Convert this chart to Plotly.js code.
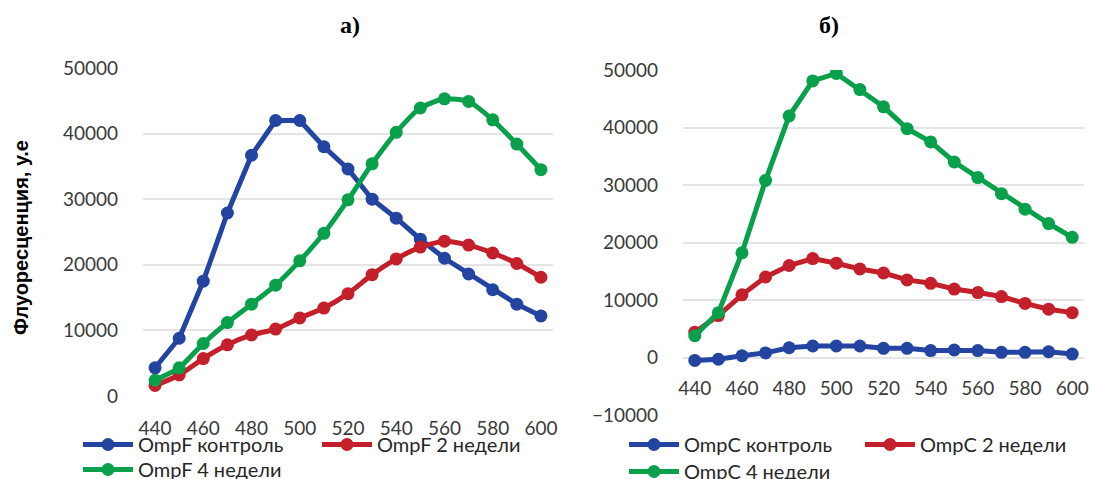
<!DOCTYPE html>
<html>
<head>
<meta charset="utf-8">
<script src="https://cdn.plot.ly/plotly-3.0.1.min.js"></script>
<style>html,body{margin:0;padding:0;background:#fff;}#chart{width:1094px;height:479px;}</style>
</head>
<body>
<div id="chart"></div>
<script>
// Wavelengths (nm)
const wavelengths = [440,450,460,470,480,490,500,510,520,530,540,550,560,570,580,590,600];
const xTickVals = [440,460,480,500,520,540,560,580,600];

// Panel а) OmpF
const ompF_control = [4300,8800,17500,27900,36700,42000,42000,38000,34600,30000,27100,23900,21000,18600,16200,14000,12200];
const ompF_2weeks  = [1600,3200,5700,7800,9300,10200,11900,13400,15600,18500,20900,22700,23600,23000,21800,20200,18100];
const ompF_4weeks  = [2400,4300,8000,11200,14000,16900,20600,24800,29900,35400,40200,43900,45300,44900,42100,38400,34500];

// Panel б) OmpC
const ompC_control = [-500,-300,300,800,1700,2000,2000,2000,1600,1600,1200,1300,1200,900,900,1000,600];
const ompC_2weeks  = [4400,7300,10900,14000,16000,17200,16400,15400,14700,13500,12900,11900,11300,10600,9400,8400,7800];
const ompC_4weeks  = [3800,7800,18200,30800,42000,48100,49400,46600,43600,39800,37500,34000,31300,28500,25800,23300,20900];

const namesF = ["OmpF контроль","OmpF 2 недели","OmpF 4 недели"];
const namesC = ["OmpC контроль","OmpC 2 недели","OmpC 4 недели"];
const panelTitles = ["а)","б)"];
const yTitle = "Флуоресценция, у.е";

const colors = ["#2344A0","#C3202B","#08A04B"];
const W = 1094, H = 479;
const px = v => v / W;
const py = v => (H - v) / H;

const TICKFONT = {family:"Lato, 'Open Sans', sans-serif", size:19, color:"#3a3a3a"};
const LEGFONT = {family:"Lato, 'Open Sans', sans-serif", size:20, color:"#262626"};

function tr(x, y, name, ci, xa, ya, leg, smooth) {
  return {
    x: x, y: y, name: name, type: "scatter", mode: "lines+markers",
    xaxis: xa, yaxis: ya, legend: leg,
    line: {color: colors[ci], width: 5, shape: smooth ? "spline" : "linear", smoothing: 0.6},
    marker: {color: colors[ci], size: 13},
    hoverinfo: "skip"
  };
}

const data = [
  tr(wavelengths, ompF_control, namesF[0], 0, "x", "y", "legend", false),
  tr(wavelengths, ompF_2weeks,  namesF[1], 1, "x", "y", "legend2", true),
  tr(wavelengths, ompF_4weeks,  namesF[2], 2, "x", "y", "legend3", true),
  tr(wavelengths, ompC_control, namesC[0], 0, "x2", "y2", "legend4", false),
  tr(wavelengths, ompC_2weeks,  namesC[1], 1, "x2", "y2", "legend5", false),
  tr(wavelengths, ompC_4weeks,  namesC[2], 2, "x2", "y2", "legend6", false)
];

// plot areas
const yDom1 = [py(396), py(68)];
const yDom2 = [py(415), py(70)];
const y2Range = [-10000, 50000];
const zeroPos2 = yDom2[0] + (0 - y2Range[0]) / (y2Range[1] - y2Range[0]) * (yDom2[1] - yDom2[0]);

function leg(xp, yTop) {
  return {x: px(xp), y: py(yTop), xanchor: "left", yanchor: "top", orientation: "h",
          font: LEGFONT, itemwidth: 50, bgcolor: "rgba(0,0,0,0)", borderwidth: 0};
}

const gridC = "#E4E4E4";
const layout = {
  width: W, height: H,
  margin: {l:0, r:0, t:0, b:0, autoexpand: false},
  paper_bgcolor: "#ffffff", plot_bgcolor: "#ffffff",
  showlegend: true,
  xaxis: {domain: [px(143), px(553)], range: [435, 605], tickvals: xTickVals, showgrid: false,
          zeroline: false, showline: false, ticks: "", tickfont: TICKFONT, ticklabelstandoff: 19, anchor: "y"},
  yaxis: {domain: yDom1, range: [0, 50000], dtick: 10000, tickformat: "d", showgrid: true, gridcolor: gridC, gridwidth: 2,
          zeroline: false, showline: false, ticks: "", tickfont: TICKFONT, ticklabelstandoff: 24, anchor: "x"},
  xaxis2: {domain: [px(683), px(1084)], range: [435, 605], tickvals: xTickVals, showgrid: false,
           zeroline: false, showline: false, ticks: "", tickfont: TICKFONT, ticklabelstandoff: 17,
           anchor: "free", position: zeroPos2},
  yaxis2: {domain: yDom2, range: y2Range, dtick: 10000, tickformat: "d", showgrid: true, gridcolor: gridC, gridwidth: 2,
           zeroline: false, showline: false, ticks: "", tickfont: TICKFONT, ticklabelstandoff: 24, anchor: "x2"},
  legend: leg(78, 425),
  legend2: leg(317, 425),
  legend3: leg(78, 450),
  legend4: leg(624, 425),
  legend5: leg(860, 425),
  legend6: leg(624, 452),
  annotations: [
    {text: panelTitles[0], x: px(350), y: py(25), xref: "paper", yref: "paper", showarrow: false,
     font: {family: "'Liberation Serif', 'Times New Roman', serif", size: 24, color: "#000", weight: "bold"}, xanchor: "center", yanchor: "middle"},
    {text: panelTitles[1], x: px(829), y: py(25), xref: "paper", yref: "paper", showarrow: false,
     font: {family: "'Liberation Serif', 'Times New Roman', serif", size: 24, color: "#000", weight: "bold"}, xanchor: "center", yanchor: "middle"},
    {text: yTitle, x: px(21), y: py(238), xref: "paper", yref: "paper", showarrow: false, textangle: -90,
     font: {family: "'Liberation Sans', Arial, sans-serif", size: 20, color: "#000", weight: "bold"}, xanchor: "center", yanchor: "middle"}
  ]
};

Plotly.newPlot("chart", data, layout, {staticPlot: true, displayModeBar: false});
</script>
</body>
</html>
